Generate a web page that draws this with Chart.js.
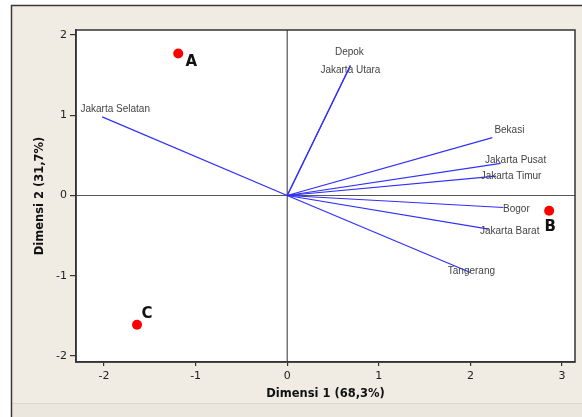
<!DOCTYPE html>
<html>
<head>
<meta charset="utf-8">
<script src="https://cdn.jsdelivr.net/npm/chart.js@4"></script>
<style>
  html, body { margin: 0; padding: 0; background: #ffffff; }
  #wrap { width: 582px; height: 417px; position: relative; }
</style>
</head>
<body>
<div id="wrap"><canvas id="biplot"></canvas></div>
<script>
// Observation scores (clusters A, B, C)
const pointNames = ["A", "B", "C"];
const pointX = [-1.19, 2.86, -1.64];
const pointY = [1.77, -0.19, -1.61];

// Variable loadings (regions), drawn as vectors from the origin
const vectorNames = ["Jakarta Selatan", "Depok", "Jakarta Utara", "Bekasi", "Jakarta Pusat",
                     "Jakarta Timur", "Bogor", "Jakarta Barat", "Tangerang"];
const vectorX = [-2.02, 0.69, 0.69, 2.24, 2.33, 2.28, 2.36, 2.20, 2.00];
const vectorY = [0.98, 1.62, 1.62, 0.72, 0.40, 0.24, -0.15, -0.42, -0.96];

// Axis tick labels
const xTicks = [-2, -1, 0, 1, 2, 3];
const yTicks = [-2, -1, 0, 1, 2];

const xTitle = "Dimensi 1 (68,3%)";
const yTitle = "Dimensi 2 (31,7%)";

// Pixel offsets of the text labels relative to their marks
const vectorLabelOffset = [[13, -8], [-1, -13], [0, 5], [17, -7], [15, -3], [15, 0], [13, 2], [21, 2], [1, -1]];
const pointLabelOffset = [[13, 9], [1, 16], [10, -11]];

const datasets = vectorNames.map((name, i) => ({
  label: name,
  data: [{ x: 0, y: 0 }, { x: vectorX[i], y: vectorY[i] }],
  showLine: true,
  borderColor: "#2f2fff",
  borderWidth: 1.2,
  pointRadius: 0,
  fill: false
}));
datasets.push({
  label: "Kelompok",
  data: pointX.map((x, i) => ({ x: x, y: pointY[i] })),
  showLine: false,
  pointRadius: 5,
  pointBackgroundColor: "#ff0000",
  pointBorderColor: "#ff0000",
  pointBorderWidth: 0
});

const framePlugin = {
  id: "frame",
  beforeDraw(chart) {
    const ctx = chart.ctx;
    const W = chart.width, H = chart.height;
    const a = chart.chartArea;
    ctx.save();
    ctx.fillStyle = "#ffffff";
    ctx.fillRect(0, 0, W, H);
    ctx.fillStyle = "#f0ece3";
    ctx.fillRect(11, 5, W - 11, H - 5);
    ctx.fillStyle = "#ebe7de";
    ctx.fillRect(12, 404, W - 12, H - 404);
    ctx.strokeStyle = "#dcd8cf";
    ctx.lineWidth = 1;
    ctx.beginPath();
    ctx.moveTo(12, 403.5); ctx.lineTo(W, 403.5);
    ctx.stroke();
    ctx.strokeStyle = "#3a3a3a";
    ctx.lineWidth = 1.5;
    ctx.beginPath();
    ctx.moveTo(11.5, H); ctx.lineTo(11.5, 5.5); ctx.lineTo(W, 5.5);
    ctx.stroke();
    ctx.fillStyle = "#ffffff";
    ctx.fillRect(a.left, a.top, a.right - a.left, a.bottom - a.top);
    // zero reference lines
    const x0 = chart.scales.x.getPixelForValue(0);
    const y0 = chart.scales.y.getPixelForValue(0);
    ctx.strokeStyle = "#555555";
    ctx.lineWidth = 1.2;
    ctx.beginPath();
    ctx.moveTo(x0, a.top); ctx.lineTo(x0, a.bottom);
    ctx.moveTo(a.left, y0); ctx.lineTo(a.right, y0);
    ctx.stroke();
    ctx.restore();
  },
  afterDraw(chart) {
    const ctx = chart.ctx;
    const a = chart.chartArea;
    const xs = chart.scales.x, ys = chart.scales.y;
    ctx.save();
    // plot border
    ctx.strokeStyle = "#333333";
    ctx.lineWidth = 1.5;
    ctx.strokeRect(a.left, a.top, a.right - a.left, a.bottom - a.top);

    // vector labels
    ctx.font = "10px 'Liberation Sans', Arial, sans-serif";
    ctx.fillStyle = "#444444";
    ctx.textAlign = "center";
    ctx.textBaseline = "middle";
    vectorNames.forEach((name, i) => {
      const px = xs.getPixelForValue(vectorX[i]) + vectorLabelOffset[i][0];
      const py = ys.getPixelForValue(vectorY[i]) + vectorLabelOffset[i][1];
      ctx.fillText(name, px, py);
    });

    // cluster labels
    ctx.font = "bold 15px 'DejaVu Sans', sans-serif";
    ctx.fillStyle = "#111111";
    pointNames.forEach((name, i) => {
      const px = xs.getPixelForValue(pointX[i]) + pointLabelOffset[i][0];
      const py = ys.getPixelForValue(pointY[i]) + pointLabelOffset[i][1];
      ctx.fillText(name, px, py);
    });

    // axis titles
    ctx.font = "bold 11.5px 'DejaVu Sans', sans-serif";
    ctx.fillStyle = "#111111";
    ctx.fillText(xTitle, (a.left + a.right) / 2, 394);
    ctx.translate(40, (a.top + a.bottom) / 2);
    ctx.rotate(-Math.PI / 2);
    ctx.fillText(yTitle, 0, 0);
    ctx.restore();
  }
};

new Chart(document.getElementById("biplot"), {
  type: "scatter",
  data: { datasets: datasets },
  options: {
    responsive: true,
    maintainAspectRatio: false,
    animation: false,
    events: [],
    layout: { padding: { left: 0, right: 7, top: 30, bottom: 0 } },
    plugins: {
      legend: { display: false },
      tooltip: { enabled: false }
    },
    scales: {
      x: {
        type: "linear",
        min: -2.306,
        max: 3.142,
        afterBuildTicks: (s) => { s.ticks = xTicks.map(v => ({ value: v })); },
        afterFit: (s) => { s.height = 55; },
        grid: { drawOnChartArea: false, drawTicks: true, tickLength: 4, color: "#333333", lineWidth: 1.2 },
        border: { display: true, color: "#333333", width: 1.5 },
        ticks: { padding: 4, color: "#222222", font: { family: "'DejaVu Sans', sans-serif", size: 11 } }
      },
      y: {
        type: "linear",
        min: -2.075,
        max: 2.062,
        afterBuildTicks: (s) => { s.ticks = yTicks.map(v => ({ value: v })); },
        afterFit: (s) => { s.width = 76; },
        grid: { drawOnChartArea: false, drawTicks: true, tickLength: 6, color: "#333333", lineWidth: 1.2 },
        border: { display: true, color: "#333333", width: 1.5 },
        ticks: { padding: 3, color: "#222222", font: { family: "'DejaVu Sans', sans-serif", size: 11 } }
      }
    }
  },
  plugins: [framePlugin]
});
</script>
</body>
</html>
